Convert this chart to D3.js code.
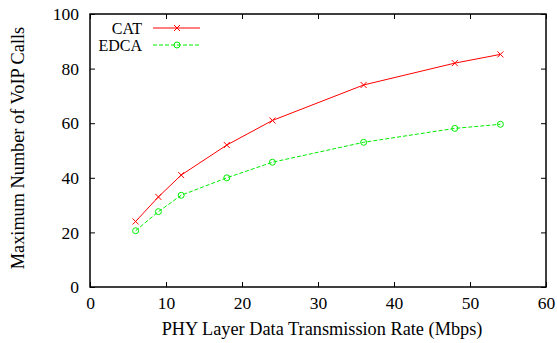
<!DOCTYPE html>
<html>
<head>
<meta charset="utf-8">
<script src="https://cdn.jsdelivr.net/npm/d3@7"></script>
<style>
  body { margin: 0; background: #fff; }
</style>
</head>
<body>
<svg id="chart"></svg>
<script>
// data
let rates = [6, 9, 12, 18, 24, 36, 48, 54];
let catCalls = [24, 33, 41, 52, 61, 74, 82, 85.2];
let edcaCalls = [20.6, 27.6, 33.6, 40, 45.7, 53, 58.1, 59.6];
let xTicks = [0, 10, 20, 30, 40, 50, 60];
let yTicks = [0, 20, 40, 60, 80, 100];

let font = '"Liberation Serif", "Times New Roman", "DejaVu Serif", serif';

let svgWidth = 557, svgHeight = 343;
let margin = { top: 14, right: 11, bottom: 56, left: 90 };
let width = svgWidth - margin.left - margin.right;
let height = svgHeight - margin.top - margin.bottom;

let svg = d3.select('#chart')
  .attr('width', svgWidth)
  .attr('height', svgHeight)
  .attr('font-family', font);

let g = svg.append('g')
  .attr('transform', 'translate(' + margin.left + ',' + margin.top + ')');

let x = d3.scaleLinear().domain([0, 60]).range([0, width]);
let y = d3.scaleLinear().domain([0, 100]).range([height, 0]);

// ticks pointing inward on all four sides
function styleAxis(sel) {
  sel.attr('font-family', font).attr('font-size', 17.5);
  sel.select('.domain').remove();
  sel.selectAll('line').attr('stroke', '#000').attr('stroke-width', 1);
  sel.selectAll('text').attr('fill', '#000');
}

g.append('g')
  .attr('transform', 'translate(0,' + height + ')')
  .call(d3.axisBottom(x).tickValues(xTicks).tickSize(-5).tickPadding(10))
  .call(styleAxis);

g.append('g')
  .call(d3.axisTop(x).tickValues(xTicks).tickSize(-5).tickFormat(''))
  .call(styleAxis);

g.append('g')
  .call(d3.axisLeft(y).tickValues(yTicks).tickSize(-5).tickPadding(11))
  .call(styleAxis);

g.append('g')
  .attr('transform', 'translate(' + width + ',0)')
  .call(d3.axisRight(y).tickValues(yTicks).tickSize(-5).tickFormat(''))
  .call(styleAxis);

g.append('rect')
  .attr('width', width)
  .attr('height', height)
  .attr('fill', 'none')
  .attr('stroke', '#000')
  .attr('stroke-width', 1.5);

let line = d3.line()
  .x(d => x(d[0]))
  .y(d => y(d[1]));

let catPts = rates.map((r, i) => [r, catCalls[i]]);
let edcaPts = rates.map((r, i) => [r, edcaCalls[i]]);

let red = '#ff0000', green = '#00ee00';

g.append('path')
  .datum(catPts)
  .attr('fill', 'none')
  .attr('stroke', red)
  .attr('stroke-width', 1)
  .attr('d', line);

g.append('path')
  .datum(edcaPts)
  .attr('fill', 'none')
  .attr('stroke', green)
  .attr('stroke-width', 1)
  .attr('stroke-dasharray', '4,2')
  .attr('d', line);

function cross(sel, cx, cy) {
  sel.append('path')
    .attr('d', 'M' + (cx - 3) + ',' + (cy - 3) + 'L' + (cx + 3) + ',' + (cy + 3) +
      'M' + (cx - 3) + ',' + (cy + 3) + 'L' + (cx + 3) + ',' + (cy - 3))
    .attr('stroke', red)
    .attr('stroke-width', 1);
}

function circ(sel, cx, cy) {
  sel.append('circle')
    .attr('cx', cx).attr('cy', cy).attr('r', 3)
    .attr('fill', 'none')
    .attr('stroke', green)
    .attr('stroke-width', 1);
}

catPts.forEach(d => cross(g, x(d[0]), y(d[1])));
edcaPts.forEach(d => circ(g, x(d[0]), y(d[1])));

// legend
let leg = svg.append('g').attr('font-size', 16);
leg.append('text').attr('x', 142).attr('y', 33.5).attr('text-anchor', 'end').text('CAT');
leg.append('line').attr('x1', 153).attr('x2', 200).attr('y1', 28).attr('y2', 28)
  .attr('stroke', red).attr('stroke-width', 1);
cross(leg, 177, 28);

leg.append('text').attr('x', 142).attr('y', 51.2).attr('text-anchor', 'end').text('EDCA');
leg.append('line').attr('x1', 153).attr('x2', 200).attr('y1', 45).attr('y2', 45)
  .attr('stroke', green).attr('stroke-width', 1).attr('stroke-dasharray', '4,2');
circ(leg, 177, 45);

// axis titles
svg.append('text')
  .attr('x', 322)
  .attr('y', 335)
  .attr('text-anchor', 'middle')
  .attr('font-size', 18.3)
  .text('PHY Layer Data Transmission Rate (Mbps)');

svg.append('text')
  .attr('transform', 'translate(24,148) rotate(-90)')
  .attr('text-anchor', 'middle')
  .attr('font-size', 18.3)
  .text('Maximum Number of VoIP Calls');
</script>
</body>
</html>
